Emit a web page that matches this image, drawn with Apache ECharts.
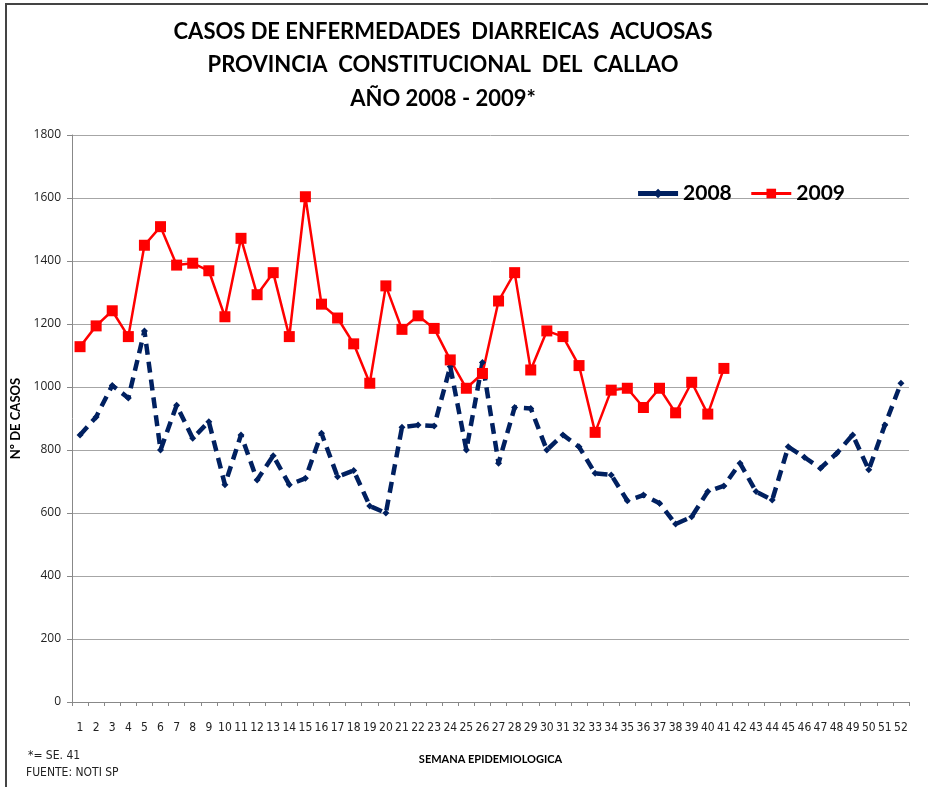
<!DOCTYPE html>
<html>
<head>
<meta charset="utf-8">
<script src="https://cdn.jsdelivr.net/npm/echarts@6/dist/echarts.min.js"></script>
<style>html,body{margin:0;padding:0;background:#fff}#c{width:928px;height:787px}</style>
</head>
<body>
<div id="c"></div>
<script>
const weeks = Array.from({length: 52}, (_, i) => String(i + 1));
const cases2008 = [848, 905, 1005, 965, 1178, 800, 942, 837, 890, 690, 848, 705, 782, 690, 710, 853, 715, 735, 622, 600, 872, 879, 876, 1065, 800, 1078, 758, 935, 932, 800, 848, 810, 726, 721, 639, 657, 631, 565, 588, 668, 686, 758, 668, 641, 810, 777, 742, 789, 848, 737, 879, 1012];
const cases2009 = [1128, 1194, 1242, 1160, 1450, 1509, 1387, 1393, 1369, 1223, 1472, 1293, 1363, 1160, 1604, 1263, 1219, 1137, 1012, 1321, 1183, 1226, 1186, 1086, 996, 1043, 1273, 1363, 1054, 1178, 1160, 1068, 856, 990, 996, 935, 996, 918, 1015, 914, 1059];
const yTicks = [0, 200, 400, 600, 800, 1000, 1200, 1400, 1600, 1800];

const narrow = "'Liberation Sans Narrow', 'DejaVu Sans Condensed', Roboto, sans-serif";
const chart = echarts.init(document.getElementById('c'));
chart.setOption({
  backgroundColor: '#fff',
  animation: false,
  title: {
    text: 'CASOS DE ENFERMEDADES  DIARREICAS  ACUOSAS\nPROVINCIA  CONSTITUCIONAL  DEL  CALLAO\nAÑO 2008 - 2009*',
    left: 438, top: 10, textAlign: 'center',
    textStyle: {fontFamily: 'Lato', fontWeight: 'bold', fontSize: 22, lineHeight: 33.5, color: '#000'}
  },
  legend: {
    right: 78, top: 178, itemGap: 18, itemWidth: 40, itemHeight: 12,
    textStyle: {fontFamily: 'Lato', fontWeight: 'bold', fontSize: 21, color: '#000'},
    data: [
      {name: '2008', lineStyle: {type: 'solid', width: 5}},
      {name: '2009', lineStyle: {width: 3}}
    ]
  },
  grid: {left: 72, right: 19, top: 135, bottom: 85},
  xAxis: {
    type: 'category', data: weeks, boundaryGap: true,
    name: 'SEMANA EPIDEMIOLOGICA', nameLocation: 'middle', nameGap: 52,
    nameTextStyle: {fontFamily: 'Lato', fontWeight: 'bold', fontSize: 11, color: '#000'},
    axisLine: {lineStyle: {color: '#888', width: 1}},
    axisTick: {show: true, length: 4, lineStyle: {color: '#888'}},
    axisLabel: {interval: 0, margin: 20, fontFamily: narrow, fontSize: 12, color: '#222'}
  },
  yAxis: {
    type: 'value', min: 0, max: 1800, interval: 200,
    name: 'Nº DE CASOS', nameLocation: 'middle', nameGap: 43, nameRotate: 90,
    nameTextStyle: {fontFamily: 'Lato', fontWeight: 'bold', fontSize: 13, color: '#000'},
    axisLine: {show: true, lineStyle: {color: '#888'}},
    axisTick: {show: true, length: 5, lineStyle: {color: '#888'}},
    axisLabel: {margin: 11, fontFamily: 'Open Sans', fontSize: 12, color: '#222',
      formatter: v => yTicks.includes(v) ? String(v) : ''},
    splitLine: {lineStyle: {color: '#a6a6a6', width: 1}}
  },
  series: [
    {
      name: '2008', type: 'line', data: cases2008,
      symbol: 'diamond', symbolSize: 7,
      itemStyle: {color: '#002060'},
      lineStyle: {color: '#002060', width: 4.5, type: [11, 7]}
    },
    {
      name: '2009', type: 'line', data: cases2009,
      symbol: 'rect', symbolSize: 11,
      itemStyle: {color: '#ff0000'},
      lineStyle: {color: '#ff0000', width: 2.5}
    }
  ],
  graphic: [
    {type: 'rect', shape: {x: 6, y: 4, width: 940, height: 800}, style: {fill: 'none', stroke: '#444', lineWidth: 2}, silent: true},
    {type: 'text', left: 28, top: 750, style: {text: '*= SE. 41', fontFamily: narrow, fontSize: 12, fill: '#222'}},
    {type: 'text', left: 26, top: 767, style: {text: 'FUENTE: NOTI SP', fontFamily: narrow, fontSize: 12, fill: '#222'}}
  ]
});
</script>
</body>
</html>
